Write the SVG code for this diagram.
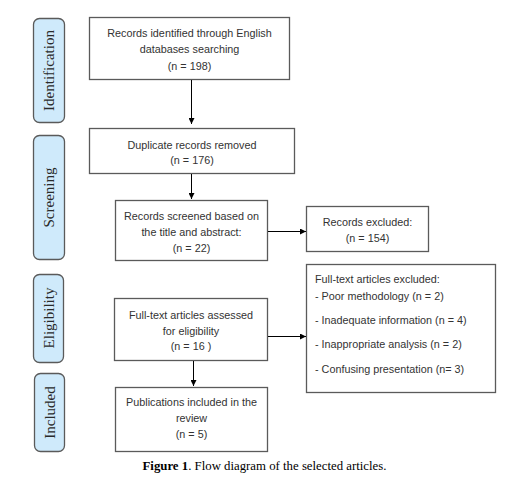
<svg xmlns="http://www.w3.org/2000/svg" width="508" height="489" viewBox="0 0 508 489">
<style>
.pill{fill:#cfeafb;stroke:#5a5a5a;stroke-width:1.3}
.phase{font-family:"Liberation Serif",serif;font-size:15px;fill:#2a2a2a;text-anchor:middle}
.box{fill:#fff;stroke:#5a5a5a;stroke-width:1.3}
.t{font-family:"Liberation Sans",Arial,sans-serif;font-size:10.8px;fill:#333;text-anchor:middle}
.tl{font-family:"Liberation Sans",Arial,sans-serif;font-size:10.8px;fill:#333}
.c{stroke:#000;stroke-width:1;fill:none;marker-end:url(#ah)}
.cap{font-family:"Liberation Serif",serif;font-size:12.8px;fill:#000;text-anchor:middle}
</style>
<defs>
<marker id="ah" viewBox="0 0 10 10" refX="10" refY="5" markerWidth="6" markerHeight="6" orient="auto" markerUnits="userSpaceOnUse">
<path d="M0,0 L10,5 L0,10 z" fill="#000"/>
</marker>
</defs>
<rect width="508" height="489" fill="#fff"/>
<g id="phase-identification">
<rect class="pill" x="33.5" y="18.5" width="31" height="104" rx="6"/>
<text class="phase" transform="translate(54,70.5) rotate(-90)">Identification</text>
</g>
<g id="phase-screening">
<rect class="pill" x="33.5" y="135.5" width="31" height="124" rx="6"/>
<text class="phase" transform="translate(54,197.5) rotate(-90)">Screening</text>
</g>
<g id="phase-eligibility">
<rect class="pill" x="33.5" y="274.5" width="30" height="88" rx="6"/>
<text class="phase" transform="translate(53.5,318) rotate(-90)">Eligibility</text>
</g>
<g id="phase-included">
<rect class="pill" x="34.5" y="373.5" width="30" height="78" rx="6"/>
<text class="phase" transform="translate(54.5,412.5) rotate(-90)">Included</text>
</g>
<g id="node-identified">
<rect class="box" x="89.5" y="17.5" width="200" height="62"/>
<text class="t" x="189.5" y="37">Records identified through English</text>
<text class="t" x="189.5" y="53">databases searching</text>
<text class="t" x="189.5" y="70">(n = 198)</text>
</g>
<g id="node-duplicates">
<rect class="box" x="89.5" y="128.5" width="205" height="45"/>
<text class="t" x="192" y="149">Duplicate records removed</text>
<text class="t" x="192" y="164">(n = 176)</text>
</g>
<g id="node-screened">
<rect class="box" x="115.5" y="200.5" width="152" height="60"/>
<text class="t" x="191.5" y="220">Records screened based on</text>
<text class="t" x="191.5" y="236">the title and abstract:</text>
<text class="t" x="191.5" y="252">(n = 22)</text>
</g>
<g id="node-records-excluded">
<rect class="box" x="306.5" y="206.5" width="122" height="45"/>
<text class="t" x="367.5" y="226">Records excluded:</text>
<text class="t" x="367.5" y="242">(n = 154)</text>
</g>
<g id="node-fulltext">
<rect class="box" x="114.5" y="298.5" width="153" height="62"/>
<text class="t" x="191" y="319">Full-text articles assessed</text>
<text class="t" x="191" y="335">for eligibility</text>
<text class="t" x="191" y="350">(n = 16 )</text>
</g>
<g id="node-fulltext-excluded">
<rect class="box" x="306.5" y="264.5" width="189" height="128"/>
<text class="tl" x="315" y="283">Full-text articles excluded:</text>
<text class="tl" x="315" y="300">- Poor methodology (n = 2)</text>
<text class="tl" x="315" y="324">- Inadequate information (n = 4)</text>
<text class="tl" x="315" y="348">- Inappropriate analysis (n = 2)</text>
<text class="tl" x="315" y="373">- Confusing presentation  (n= 3)</text>
</g>
<g id="node-included">
<rect class="box" x="115.5" y="387.5" width="152" height="64"/>
<text class="t" x="191.5" y="406">Publications included in the</text>
<text class="t" x="191.5" y="422">review</text>
<text class="t" x="191.5" y="438">(n = 5)</text>
</g>
<g id="connectors">
<line class="c" x1="191.5" y1="80" x2="191.5" y2="124"/>
<line class="c" x1="191.5" y1="174" x2="191.5" y2="199"/>
<line class="c" x1="268" y1="231.5" x2="306" y2="231.5"/>
<line class="c" x1="268" y1="336.5" x2="306" y2="336.5"/>
<line class="c" x1="193.5" y1="361" x2="193.5" y2="386"/>
</g>
<text class="cap" x="264.5" y="470"><tspan font-weight="bold">Figure 1</tspan>. Flow diagram of the selected articles.</text>
</svg>
